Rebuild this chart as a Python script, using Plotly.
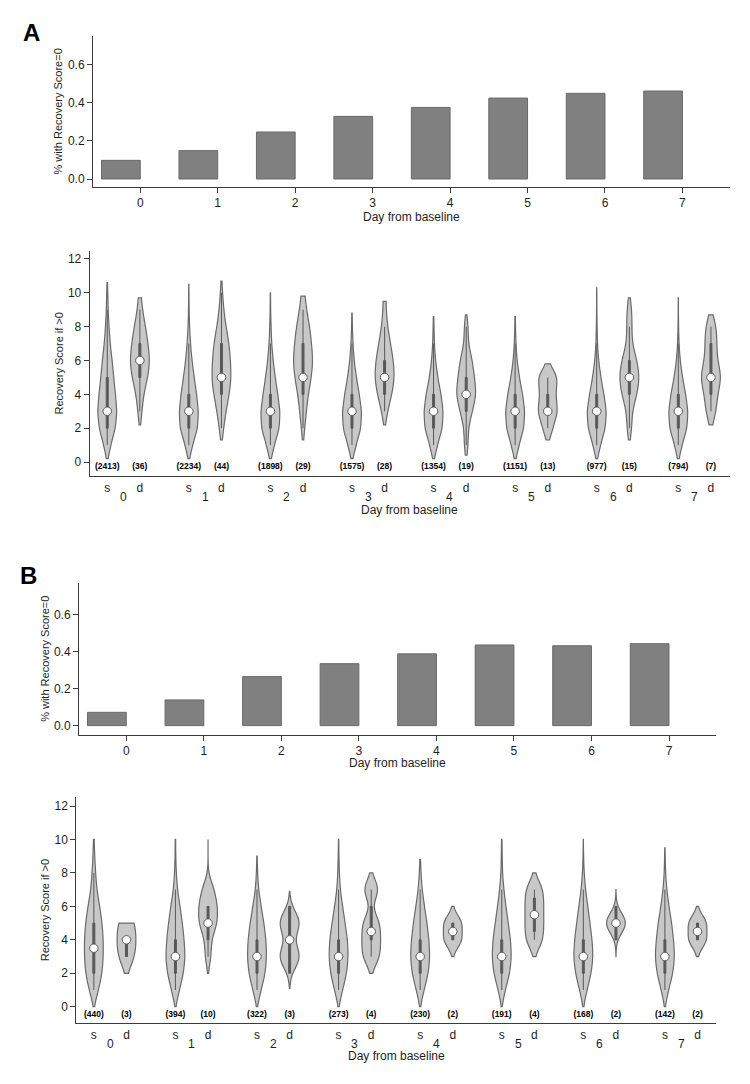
import numpy as np
import plotly.graph_objects as go

W, H = 750, 1084

# ---------------- data ----------------
DAYS = [0, 1, 2, 3, 4, 5, 6, 7]
DAY_LABELS = ["0", "1", "2", "3", "4", "5", "6", "7"]
GROUP_LABELS = ["s", "d"]

# share with recovery score = 0, by day
A_ZERO = [0.098, 0.149, 0.247, 0.329, 0.376, 0.425, 0.450, 0.462]
B_ZERO = [0.072, 0.139, 0.265, 0.335, 0.388, 0.436, 0.432, 0.443]

# group sizes
A_N_S = [2413, 2234, 1898, 1575, 1354, 1151, 977, 794]
A_N_D = [36, 44, 29, 28, 19, 13, 15, 7]
B_N_S = [440, 394, 322, 273, 230, 191, 168, 142]
B_N_D = [3, 10, 3, 4, 2, 4, 2, 2]

# recovery score levels and estimated counts per level (score > 0)
SCORES = [1, 2, 3, 4, 5, 6, 7, 8, 9, 10]
A_S_COUNTS = [
    [180, 420, 500, 420, 330, 250, 150, 90, 45, 28],
    [200, 480, 520, 420, 290, 170, 90, 40, 15, 9],
    [190, 430, 460, 350, 230, 130, 60, 30, 12, 6],
    [170, 370, 400, 300, 180, 90, 40, 15, 6, 4],
    [140, 320, 350, 270, 150, 70, 30, 15, 6, 3],
    [120, 270, 300, 230, 130, 60, 25, 10, 4, 2],
    [100, 230, 260, 190, 110, 50, 20, 10, 4, 3],
    [80, 190, 210, 160, 90, 40, 15, 6, 2, 1],
]
A_D_COUNTS = [
    [0, 0, 2, 3, 7, 9, 7, 5, 2, 1],
    [0, 2, 4, 7, 9, 8, 7, 4, 2, 1],
    [0, 1, 2, 3, 5, 6, 5, 4, 2, 1],
    [0, 0, 2, 5, 7, 6, 4, 2, 1, 1],
    [1, 1, 3, 5, 4, 3, 1, 1, 0, 0],
    [0, 2, 4, 3, 4, 0, 0, 0, 0, 0],
    [0, 1, 1, 3, 4, 3, 1, 1, 1, 0],
    [0, 0, 1, 1, 2, 1, 1, 1, 0, 0],
]
B_S_COUNTS = [
    [40, 70, 80, 80, 70, 50, 25, 15, 7, 3],
    [35, 70, 85, 75, 60, 40, 17, 7, 3, 2],
    [30, 60, 70, 65, 50, 30, 11, 4, 1, 1],
    [25, 50, 60, 55, 40, 25, 10, 5, 2, 1],
    [20, 42, 50, 45, 35, 22, 10, 4, 1, 1],
    [15, 35, 42, 38, 28, 18, 9, 3, 2, 1],
    [14, 30, 37, 33, 25, 17, 8, 3, 1, 0],
    [12, 26, 32, 28, 22, 13, 6, 2, 1, 0],
]
B_D_COUNTS = [
    [0, 0, 1, 1, 1, 0, 0, 0, 0, 0],
    [0, 0, 1, 1, 3, 3, 2, 0, 0, 0],
    [0, 0, 1, 0, 1, 0, 0, 0, 0, 0],
    [0, 0, 1, 1, 1, 0, 1, 0, 0, 0],
    [0, 0, 0, 1, 1, 0, 0, 0, 0, 0],
    [0, 0, 0, 1, 1, 1, 1, 0, 0, 0],
    [0, 0, 0, 0, 2, 0, 0, 0, 0, 0],
    [0, 0, 0, 1, 1, 0, 0, 0, 0, 0],
]

# extent of each density (low, high)
A_S_SPAN = [(0.2, 10.6), (0.2, 10.5), (0.2, 10.0), (0.2, 8.8), (0.2, 8.6), (0.2, 8.6), (0.2, 10.3), (0.2, 9.7)]
A_D_SPAN = [(2.2, 9.7), (1.3, 10.7), (1.3, 9.8), (2.2, 9.5), (0.4, 8.7), (1.3, 5.8), (1.3, 9.7), (2.2, 8.7)]
B_S_SPAN = [(0.0, 10.0), (0.0, 10.0), (0.0, 9.0), (0.0, 10.0), (0.0, 8.8), (0.0, 10.0), (0.0, 10.0), (0.0, 9.5)]
B_D_SPAN = [(2.0, 5.0), (2.0, 10.0), (1.1, 6.9), (2.0, 8.0), (3.0, 6.0), (3.0, 8.0), (3.0, 7.0), (3.0, 6.0)]

# box summaries: (lower adjacent, q1, median, q3, upper adjacent)
A_S_BOX = [(1, 2, 3, 5, 9), (1, 2, 3, 4, 7), (1, 2, 3, 4, 7), (1, 2, 3, 4, 7),
           (1, 2, 3, 4, 7), (1, 2, 3, 4, 7), (1, 2, 3, 4, 7), (1, 2, 3, 4, 7)]
A_D_BOX = [(3, 5, 6, 7, 9), (2, 4, 5, 7, 10), (2, 4, 5, 7, 9), (3, 4, 5, 6, 8),
           (1, 3, 4, 5, 8), (2, 3, 3, 4, 5), (2, 4, 5, 6, 8), (3, 4, 5, 7, 8)]
B_S_BOX = [(1, 2, 3.5, 5, 8), (1, 2, 3, 4, 7), (1, 2, 3, 4, 7), (1, 2, 3, 4, 7),
           (1, 2, 3, 4, 7), (1, 2, 3, 4, 7), (1, 2, 3, 4, 7), (1, 2, 3, 4, 7)]
B_D_BOX = [(3, 3, 4, 4, 4), (3, 4, 5, 6, 6), (2, 2, 4, 6, 6), (3, 4, 4.5, 6, 7),
           (4, 4, 4.5, 5, 5), (4, 4.5, 5.5, 6.5, 7), (4, 4, 5, 6, 6), (4, 4, 4.5, 5, 5)]

# ---------------- style ----------------
FONT = "Liberation Sans, Arial, sans-serif"
TXT = "#1e1e1e"
AXC = "#3c3c3c"
BAR_FILL = "#808080"
BAR_LINE = "#6a6a6a"
VIO_FILL = "#c8c8c8"
VIO_LINE = "#6a6a6a"
BOX_C = "#585858"
D_OFF = 0.4
S_BW = {"A": 0.55, "B": 0.6}
A_D_BW = [0.7, 0.7, 0.7, 0.7, 0.6, 0.55, 0.65, 0.7]
B_D_BW = [0.7, 0.6, 0.7, 0.6, 0.5, 0.6, 0.6, 0.5]

fig = go.Figure()


def dom_x(l, r):
    return [l / W, r / W]


def dom_y(t, b):
    return [1 - b / H, 1 - t / H]


annotations = []
layout = {}


def ann(text, x, y, xref="paper", size=12, angle=0, bold=False):
    annotations.append(dict(
        text=("<b>%s</b>" % text) if bold else text,
        x=x if xref != "paper" else x / W, y=1 - y / H,
        xref=xref, yref="paper", showarrow=False,
        xanchor="center", yanchor="middle", textangle=angle,
        font=dict(family=FONT, size=size, color=TXT)))


def add_bar_panel(k, values, xpx, ypx, yr, title_x, xtitle_y):
    xa, ya = ("x%d" % k, "y%d" % k) if k > 1 else ("x", "y")
    fig.add_trace(go.Bar(
        x=DAYS, y=values, offset=-0.5, width=0.5,
        marker=dict(color=BAR_FILL, line=dict(color=BAR_LINE, width=1)),
        xaxis=xa, yaxis=ya, showlegend=False, hoverinfo="skip"))
    sfx = str(k) if k > 1 else ""
    layout["xaxis" + sfx] = dict(
        domain=dom_x(*xpx), anchor=ya, range=[-0.61, 7.61],
        tickvals=DAYS, ticktext=DAY_LABELS, ticks="outside", ticklen=5,
        tickcolor=AXC, showline=True, linecolor=AXC, linewidth=1,
        showgrid=False, zeroline=False,
        tickfont=dict(family=FONT, size=12, color=TXT))
    layout["yaxis" + sfx] = dict(
        domain=dom_y(*ypx), anchor=xa, range=yr,
        tickvals=[0, 0.2, 0.4, 0.6], tickformat=".1f", ticks="outside",
        ticklen=5, tickcolor=AXC, showline=True, linecolor=AXC, linewidth=1,
        showgrid=False, zeroline=False,
        tickfont=dict(family=FONT, size=12, color=TXT))
    ann("% with Recovery Score=0", title_x, (ypx[0] + ypx[1]) / 2, size=11, angle=-90)
    ann("Day from baseline", (xpx[0] + xpx[1]) / 2, xtitle_y)


def add_violin_panel(k, panel, s_counts, d_counts, s_span, d_span, d_bw,
                     s_box, d_box, n_s, n_d, xpx, ypx, yr, count_y,
                     title_x, day_y, xtitle_y):
    xa, ya = "x%d" % k, "y%d" % k
    for i, day in enumerate(DAYS):
        groups = [(day, s_counts[i], s_span[i], S_BW[panel]),
                  (day + D_OFF, d_counts[i], d_span[i], d_bw[i])]
        for pos, counts, span, bw in groups:
            sample = np.repeat(SCORES, counts).astype(float).tolist()
            fig.add_trace(go.Violin(
                x=[pos] * len(sample), y=sample, xaxis=xa, yaxis=ya,
                width=0.23, scalemode="width", spanmode="manual",
                span=list(span), bandwidth=bw, points=False,
                fillcolor=VIO_FILL, line=dict(color=VIO_LINE, width=1.2),
                box_visible=False, meanline_visible=False,
                hoverinfo="skip", showlegend=False))
    pos = []
    boxes = []
    labels = []
    for i, day in enumerate(DAYS):
        pos += [day, day + D_OFF]
        boxes += [s_box[i], d_box[i]]
        labels += ["<b>(%d)</b>" % n_s[i], "<b>(%d)</b>" % n_d[i]]
    fig.add_trace(go.Box(
        x=pos, lowerfence=[b[0] for b in boxes], q1=[b[1] for b in boxes],
        median=[b[2] for b in boxes], q3=[b[3] for b in boxes],
        upperfence=[b[4] for b in boxes], width=0.024, whiskerwidth=0,
        fillcolor=BOX_C, line=dict(color=BOX_C, width=1), boxpoints=False,
        xaxis=xa, yaxis=ya, hoverinfo="skip", showlegend=False))
    fig.add_trace(go.Scatter(
        x=pos, y=[b[2] for b in boxes], mode="markers",
        marker=dict(size=8.5, color="white", line=dict(color="#5a5a5a", width=1)),
        xaxis=xa, yaxis=ya, hoverinfo="skip", showlegend=False))
    fig.add_trace(go.Scatter(
        x=pos, y=[count_y] * len(pos), mode="text", text=labels,
        textfont=dict(family=FONT, size=8.5, color="#000000"),
        textposition="middle center",
        xaxis=xa, yaxis=ya, hoverinfo="skip", showlegend=False))
    layout["xaxis%d" % k] = dict(
        domain=dom_x(*xpx), anchor=ya, range=[-0.215, 7.63],
        tickvals=pos, ticktext=GROUP_LABELS * len(DAYS), ticks="",
        showline=True, linecolor=AXC, linewidth=1, showgrid=False,
        zeroline=False, tickfont=dict(family=FONT, size=12, color=TXT))
    layout["yaxis%d" % k] = dict(
        domain=dom_y(*ypx), anchor=xa, range=yr,
        tickvals=[0, 2, 4, 6, 8, 10, 12], ticks="outside", ticklen=5,
        tickcolor=AXC, showline=True, linecolor=AXC, linewidth=1,
        showgrid=False, zeroline=False,
        tickfont=dict(family=FONT, size=12, color=TXT))
    for i, day in enumerate(DAYS):
        ann(DAY_LABELS[i], day + D_OFF / 2, day_y, xref=xa)
    ann("Recovery Score if >0", title_x, (ypx[0] + ypx[1]) / 2, size=11, angle=-90)
    ann("Day from baseline", (xpx[0] + xpx[1]) / 2, xtitle_y)


# Panel A
add_bar_panel(1, A_ZERO, (85, 721.7), (28, 179), [-0.042, 0.751], 50, 209)
add_violin_panel(2, "A", A_S_COUNTS, A_D_COUNTS, A_S_SPAN, A_D_SPAN, A_D_BW,
                 A_S_BOX, A_D_BOX, A_N_S, A_N_D, (81.7, 721.7), (242.7, 468.3),
                 [-0.845, 12.49], -0.31, 50, 488.5, 501.5)
# Panel B
add_bar_panel(3, B_ZERO, (71, 708.3), (575, 726.7), [-0.049, 0.771], 37, 754.5)
add_violin_panel(4, "B", B_S_COUNTS, B_D_COUNTS, B_S_SPAN, B_D_SPAN, B_D_BW,
                 B_S_BOX, B_D_BOX, B_N_S, B_N_D, (68.3, 708.3), (789.3, 1015.3),
                 [-0.99, 12.52], -0.5, 37, 1036.2, 1048.2)

ann("A", 23, 24, size=24, bold=True)
ann("B", 20, 567, size=24, bold=True)
for a in annotations[-2:]:
    a["font"]["color"] = "#000000"

fig.update_layout(
    width=W, height=H, margin=dict(l=0, r=0, t=0, b=0),
    paper_bgcolor="white", plot_bgcolor="white",
    violinmode="overlay", boxmode="overlay", showlegend=False,
    annotations=annotations, **layout)

fig.write_html("out.html")
